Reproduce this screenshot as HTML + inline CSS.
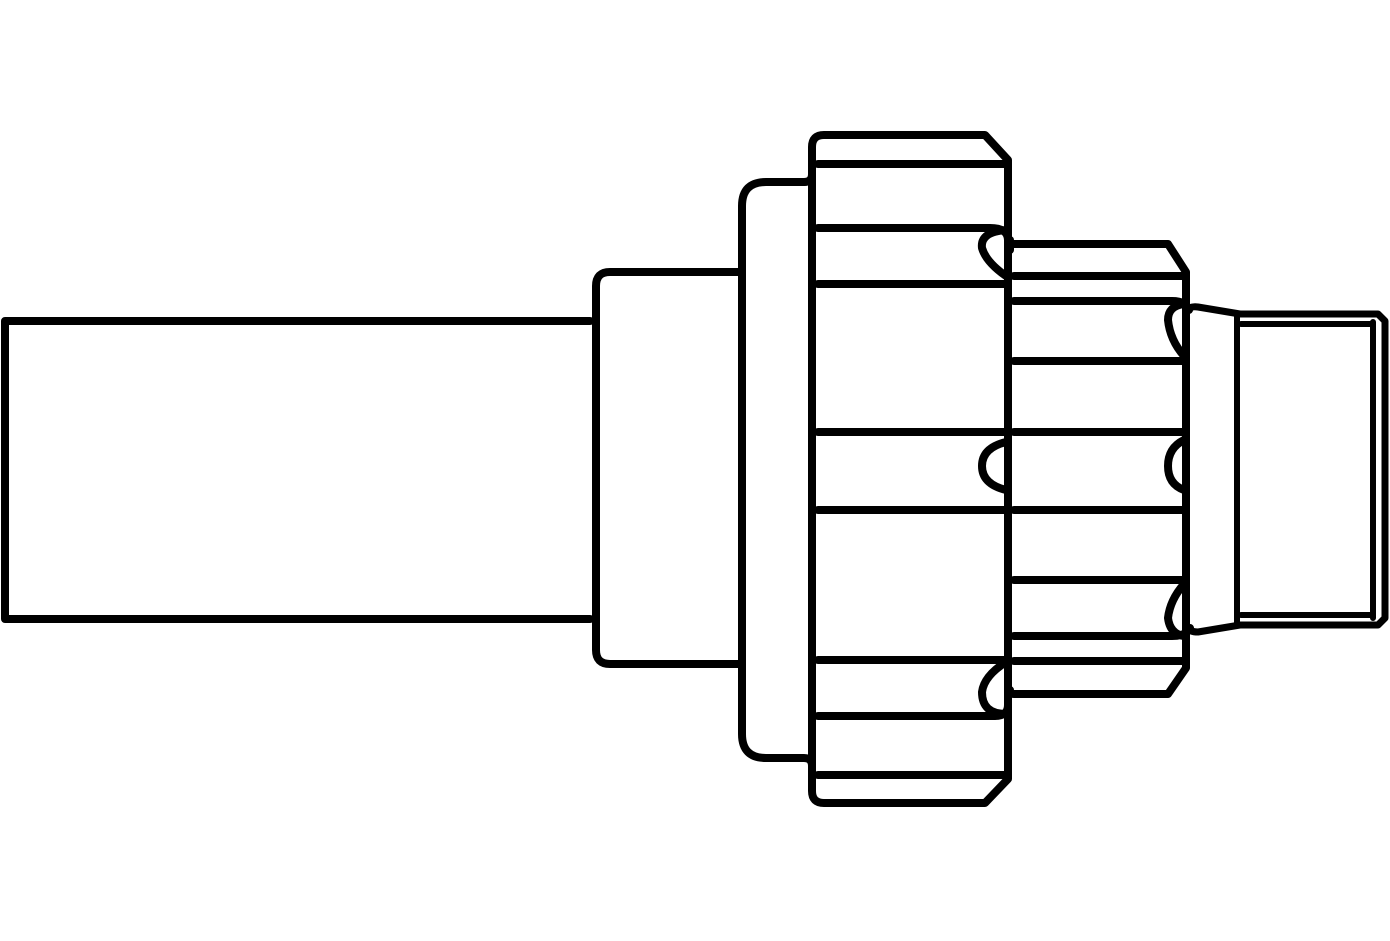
<!DOCTYPE html>
<html><head><style>html,body{margin:0;padding:0;background:#fff}svg{display:block}</style></head>
<body>
<svg width="1390" height="941" viewBox="0 0 1390 941" xmlns="http://www.w3.org/2000/svg" fill="none" stroke="#000" stroke-width="8" stroke-linejoin="round" stroke-linecap="round">
<!-- pipe -->
<path d="M590 321 H5 V619 H590"/>
<!-- collar -->
<path d="M740 272 H610 Q596 272 596 286 V650 Q596 664 610 664 H740"/>
<!-- flange -->
<path d="M804 182 H766 Q742 182 742 206 V734 Q742 758 766 758 H804 Q812 758 812 766"/>
<path d="M804 182 Q812 182 812 174"/>
<!-- big nut -->
<path d="M812 766 V791 Q812 803 824 803 H985 L1008 779 V160 L985 135 H824 Q812 135 812 147 V766"/>
<path d="M818 164 H1008 M818 228 H990 Q1008 228 1008 240 M818 284 H1008 M818 432 H1008 M818 510 H1008 M818 660 H1008 M818 716 H995 Q1008 716 1008 705 M818 775 H1008"/>
<!-- big nut arcs -->
<path d="M1006 230 Q980 232 982 248 Q986 262 1006 276"/>
<path d="M1006 442 Q982 448 982 466 Q982 484 1006 490"/>
<path d="M1006 662 Q984 676 982 692 Q982 714 1006 714"/>
<!-- middle nut -->
<path d="M1010 244 H1168 L1186 272 V668 L1168 694 H1014 Q1010 694 1010 690"/>
<path d="M1014 276 H1186 M1014 301 H1172 Q1186 301 1189 310 M1014 361 H1186 M1014 432 H1186 M1014 510 H1186 M1014 580 H1186 M1014 636 H1172 Q1186 636 1190 628 M1014 661 H1186"/>
<path d="M1010 240 V250"/>
<!-- middle nut arcs -->
<path d="M1184 304 Q1168 306 1168 320 Q1170 340 1184 356"/>
<path d="M1184 440 Q1168 448 1168 466 Q1168 484 1184 490"/>
<path d="M1184 584 Q1170 600 1168 618 Q1170 634 1184 636"/>
<!-- thread -->
<path stroke-width="7" d="M1188 310 Q1190 306 1198 307 L1240 314 H1378 L1385 321 V618 L1378 625 H1240 L1198 632 Q1190 632 1188 628"/>
<path stroke-width="6" d="M1237 316 V623 M1241 324 H1372 M1241 615 H1372 M1373 322 V618"/>
</svg>
</body></html>
